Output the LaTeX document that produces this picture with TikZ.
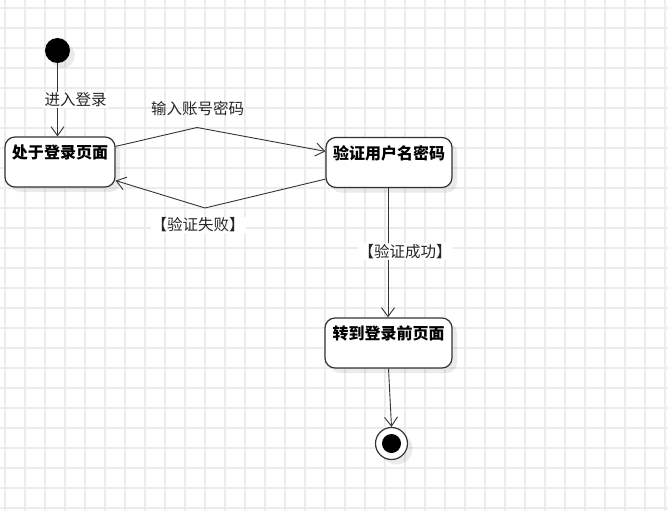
\documentclass[tikz,border=0pt]{standalone}
\usepackage{fontspec}
\setmainfont{Noto Sans CJK SC}
\usetikzlibrary{arrows.meta,shadows}
\definecolor{gridc}{RGB}{236,236,236}
\definecolor{linec}{RGB}{51,51,51}
\tikzset{
  shad/.style={drop shadow={shadow xshift=5pt,shadow yshift=-5pt,fill=black,opacity=0.08}},
  statebox/.style={draw=linec,line width=1.2pt,rounded corners=10pt,fill=white,shad,
    minimum width=#1,inner sep=0pt,text height=21.5pt,text depth=28.5pt,
    font=\fontsize{16}{19}\selectfont\bfseries,text=black},
  statebox/.default=110pt,
  trans/.style={draw=linec,line width=0.9pt,-{Straight Barb[length=9pt,width=13pt,line width=0.9pt]}},
  lbl/.style={font=\fontsize{15.5}{18}\selectfont,text=black!85,inner sep=1pt},
  lblw/.style={lbl,fill=white}
}
\begin{document}
\begin{tikzpicture}[x=1pt,y=-1pt]
\useasboundingbox (0,0) rectangle (668,511);
% grid
\foreach \gx in {5,25,...,665} \draw[gridc,line width=1.4pt] (\gx,0) -- (\gx,511);
\foreach \gy in {8,28,...,508} \draw[gridc,line width=1.4pt] (0,\gy) -- (668,\gy);
% nodes
\node[circle,fill=black,minimum size=25pt,inner sep=0pt,shad] (I) at (57.5,50.5) {};
\node[statebox] (A) at (60,162) {处于登录页面};
\node[statebox=126pt] (B) at (389,162.5) {验证用户名密码};
\node[statebox=127pt] (C) at (388.5,343) {转到登录前页面};
\node[circle,draw=linec,line width=1.2pt,fill=white,minimum size=32pt,inner sep=0pt,shad] (F) at (391.5,443.5) {};
\node[circle,fill=black,minimum size=19pt,inner sep=0pt] (Fi) at (F) {};
% bend points
\coordinate (p1) at (197,127.5);
\coordinate (p2) at (205,208);
% edges
\draw[trans] (I) -- (I |- A.north) node[lblw,pos=0.5,xshift=18pt] {进入登录};
\draw[trans] ([yshift=-10pt]A.north east) -- (p1) -- ([yshift=-14.5pt]B.north west);
\node[lbl] at (197.5,108.5) {输入账号密码};
\draw[trans] ([yshift=9pt]B.south west) -- (p2) -- ([yshift=7pt]A.south east);
\node[lblw] at (198,225) {【验证失败】};
\draw[trans] (B.south -| 388,0) -- (C.north -| 388,0);
\node[lblw] at (405,251.5) {【验证成功】};
\draw[trans] (C.south -| 388.5,0) -- (F.north);
\end{tikzpicture}
\end{document}
